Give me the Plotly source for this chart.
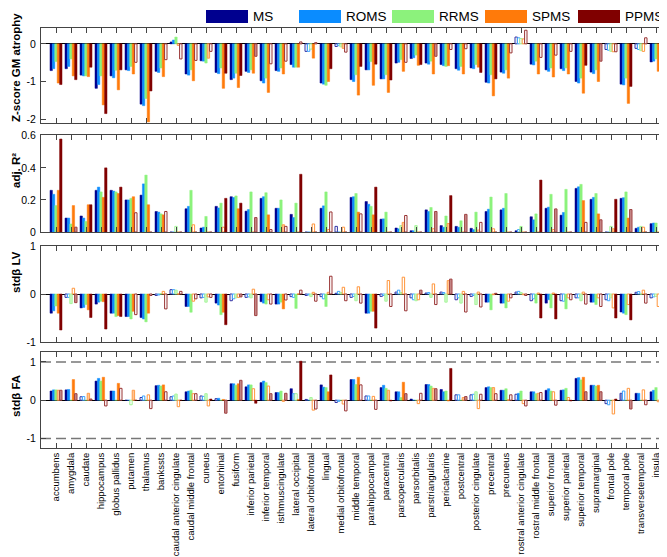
import plotly.graph_objects as go

categories = ["accumbens", "amygdala", "caudate", "hippocampus", "globus pallidus", "putamen",
              "thalamus", "bankssts", "caudal anterior cingulate", "caudal middle frontal", "cuneus",
              "entorhinal", "fusiform", "inferior parietal", "inferior temporal", "isthmuscingulate",
              "lateral occipital", "lateral orbitofrontal", "lingual", "medial orbitofrontal",
              "middle temporal", "parahippocampal", "paracentral", "parsopercularis", "parsorbitalis",
              "parstriangularis", "pericalcarine", "postcentral", "posterior cingulate", "precentral",
              "precuneus", "rostral anterior cingulate", "rostral middle frontal", "superior frontal",
              "superior parietal", "superior temporal", "supramarginal", "frontal pole", "temporal pole",
              "transversetemporal", "insula"]
series = ["MS", "ROMS", "RRMS", "SPMS", "PPMS"]

# Panel 1: Z-score GM atrophy
gm_ms = [-0.71, -0.66, -0.83, -1.18, -0.85, -0.69, -1.60, -0.73, 0.05, -0.80, -0.45, -0.76, -0.95, -0.73, -0.98, -0.71, -0.55, -0.20, -1.04, -0.07, -0.95, -0.69, -0.93, -0.51, -0.39, -0.51, -0.55, -0.66, -0.64, -1.02, -0.75, 0.18, -0.54, -0.69, -0.66, -1.00, -0.75, -0.15, -1.07, -0.12, -0.48]
gm_roms = [-0.66, -0.60, -0.85, -1.08, -0.90, -0.71, -1.64, -0.76, 0.10, -0.83, -0.46, -0.79, -0.91, -0.76, -1.04, -0.73, -0.62, -0.20, -1.07, -0.05, -1.00, -0.69, -0.93, -0.49, -0.37, -0.54, -0.58, -0.70, -0.66, -1.04, -0.78, 0.16, -0.56, -0.73, -0.71, -1.04, -0.79, -0.17, -1.09, -0.15, -0.46]
gm_rrms = [-0.47, -0.40, -0.85, -0.85, -0.70, -0.60, -1.45, -0.64, 0.18, -0.69, -0.51, -0.64, -0.78, -0.69, -0.91, -0.64, -0.62, -0.14, -1.10, -0.08, -0.82, -0.47, -0.82, -0.42, -0.30, -0.46, -0.60, -0.60, -0.55, -0.82, -0.69, 0.14, -0.46, -0.64, -0.64, -0.91, -0.69, -0.20, -0.91, -0.18, -0.40]
gm_spms = [-1.04, -0.85, -0.87, -1.62, -1.22, -0.80, -2.07, -0.87, -0.04, -0.98, -0.38, -1.18, -1.16, -0.78, -1.29, -0.80, -0.62, -0.38, -1.00, -0.12, -1.36, -1.10, -1.29, -0.73, -0.57, -0.80, -0.58, -0.80, -0.62, -1.38, -0.91, 0.13, -0.80, -0.88, -0.80, -1.31, -1.00, -0.21, -1.58, -0.20, -0.73]
gm_ppms = [-1.08, -0.95, -0.62, -1.85, -0.69, -0.49, -1.25, -0.42, -0.40, -0.44, -0.20, -0.78, -0.84, -0.33, -0.53, -0.46, 0.05, 0.03, -0.66, -0.22, -0.60, -0.54, -0.96, -0.49, -0.55, -0.33, -0.15, -0.13, -0.76, -0.93, -0.24, 0.36, -0.36, -0.30, -0.20, -0.57, -0.46, -0.21, -1.13, 0.16, -0.69]

# Panel 2: adj. R2
r2_ms = [0.26, 0.087, 0.10, 0.26, 0.26, 0.20, 0.23, 0.128, 0.0, 0.145, 0.025, 0.16, 0.22, 0.13, 0.21, 0.148, 0.11, 0.0, 0.148, 0.035, 0.216, 0.19, 0.08, 0.025, 0.008, 0.138, 0.04, 0.035, 0.023, 0.128, 0.138, 0.008, 0.095, 0.148, 0.105, 0.272, 0.204, 0.0, 0.21, 0.023, 0.052]
r2_roms = [0.235, 0.087, 0.087, 0.28, 0.255, 0.20, 0.30, 0.124, 0.0, 0.16, 0.03, 0.15, 0.215, 0.14, 0.22, 0.148, 0.09, 0.0, 0.163, 0.0, 0.22, 0.173, 0.082, 0.02, 0.008, 0.128, 0.03, 0.03, 0.015, 0.142, 0.148, 0.015, 0.076, 0.155, 0.122, 0.282, 0.216, 0.0, 0.214, 0.03, 0.056]
r2_rrms = [0.165, 0.05, 0.066, 0.25, 0.25, 0.21, 0.355, 0.113, 0.035, 0.26, 0.097, 0.18, 0.225, 0.25, 0.245, 0.20, 0.18, 0.0, 0.25, 0.0, 0.24, 0.16, 0.124, 0.04, 0.04, 0.153, 0.10, 0.07, 0.124, 0.218, 0.24, 0.035, 0.113, 0.235, 0.266, 0.297, 0.24, 0.035, 0.25, 0.035, 0.056]
r2_spms = [0.26, 0.165, 0.17, 0.216, 0.24, 0.22, 0.17, 0.107, 0.0, 0.045, 0.0, 0.03, 0.145, 0.0, 0.107, 0.045, 0.0, 0.05, 0.015, 0.03, 0.124, 0.107, 0.0, 0.06, 0.0, 0.02, 0.053, 0.0, 0.012, 0.02, 0.0, 0.0, 0.0, 0.015, 0.0, 0.196, 0.113, 0.02, 0.087, 0.03, 0.0]
r2_ppms = [0.58, 0.03, 0.17, 0.40, 0.28, 0.12, 0.0, 0.128, 0.0, 0.0, 0.0, 0.21, 0.18, 0.09, 0.015, 0.035, 0.36, 0.0, 0.125, 0.0, 0.113, 0.28, 0.0, 0.103, 0.0, 0.128, 0.227, 0.11, 0.06, 0.0, 0.0, 0.0, 0.324, 0.144, 0.0, 0.06, 0.076, 0.204, 0.14, 0.0, 0.02]

# Panel 3: std beta LV
lv_ms = [-0.40, -0.07, -0.29, -0.21, -0.40, -0.47, -0.49, -0.03, 0.09, -0.26, -0.08, -0.19, -0.14, -0.07, -0.16, -0.21, -0.055, -0.03, -0.055, 0.015, -0.07, -0.40, -0.05, 0.04, -0.08, 0.02, 0.04, -0.12, -0.05, -0.17, -0.19, 0.04, -0.14, -0.19, -0.14, -0.08, -0.17, -0.12, -0.375, 0.035, -0.08]
lv_roms = [-0.35, -0.07, -0.28, -0.17, -0.40, -0.47, -0.52, -0.02, 0.09, -0.26, -0.07, -0.23, -0.10, -0.06, -0.19, -0.21, -0.07, -0.02, -0.10, 0.055, -0.05, -0.40, -0.03, 0.08, -0.12, 0.03, 0.03, -0.08, -0.03, -0.17, -0.19, 0.055, -0.10, -0.12, -0.15, -0.08, -0.17, -0.14, -0.40, 0.05, -0.06]
lv_rrms = [-0.25, -0.20, -0.22, -0.15, -0.47, -0.52, -0.58, 0.01, 0.08, -0.38, -0.17, -0.43, -0.08, -0.08, -0.21, -0.17, -0.30, -0.055, -0.26, 0.03, -0.14, -0.36, -0.15, 0.03, -0.14, -0.07, -0.17, -0.19, -0.22, -0.33, -0.29, 0.03, -0.19, -0.29, -0.31, -0.14, -0.22, -0.08, -0.43, 0.0, -0.05]
lv_spms = [-0.40, 0.12, -0.33, -0.16, -0.45, -0.36, -0.40, 0.055, 0.0, -0.15, -0.06, -0.38, -0.07, 0.10, -0.12, -0.31, 0.0, 0.035, 0.035, 0.14, 0.15, -0.36, 0.28, 0.35, -0.12, 0.21, 0.28, 0.055, 0.04, -0.014, -0.15, -0.014, 0.02, 0.02, -0.08, 0.04, -0.08, -0.29, -0.22, 0.08, -0.26]
lv_ppms = [-0.75, -0.18, -0.49, -0.73, -0.47, -0.43, -0.03, -0.31, 0.055, -0.10, -0.07, -0.64, -0.06, -0.45, -0.21, -0.125, 0.08, -0.15, 0.37, -0.14, -0.19, -0.71, -0.26, -0.35, 0.08, -0.22, 0.31, -0.375, -0.27, 0.014, -0.08, -0.03, -0.50, -0.52, -0.12, -0.21, -0.26, -0.50, -0.54, -0.19, -0.31]

# Panel 4: std beta FA
fa_ms = [0.24, 0.27, 0.09, 0.50, 0.24, 0.0, 0.07, 0.38, 0.09, 0.22, 0.11, 0.04, 0.43, 0.35, 0.46, 0.20, 0.30, 0.02, 0.40, -0.06, 0.54, 0.11, 0.33, 0.22, 0.03, 0.41, 0.28, 0.14, 0.14, 0.33, 0.26, 0.155, 0.22, 0.26, 0.26, 0.57, 0.39, -0.09, 0.18, 0.18, 0.22]
fa_roms = [0.27, 0.28, 0.095, 0.57, 0.24, 0.0, 0.11, 0.39, 0.11, 0.24, 0.10, 0.05, 0.43, 0.40, 0.50, 0.20, 0.17, 0.0, 0.34, -0.03, 0.54, 0.11, 0.39, 0.22, 0.0, 0.41, 0.22, 0.14, 0.155, 0.35, 0.26, 0.18, 0.22, 0.30, 0.27, 0.59, 0.39, -0.12, 0.24, 0.18, 0.26]
fa_rrms = [0.27, 0.0, 0.0, 0.50, 0.0, -0.12, 0.0, 0.37, 0.16, 0.26, 0.17, 0.0, 0.39, 0.40, 0.46, 0.24, 0.17, 0.07, 0.33, 0.0, 0.41, 0.0, 0.31, 0.07, 0.0, 0.37, 0.24, 0.0, 0.22, 0.33, 0.30, 0.24, 0.17, 0.24, 0.31, 0.53, 0.37, 0.0, 0.0, 0.0, 0.33]
fa_spms = [0.26, 0.54, 0.18, 0.60, 0.44, 0.26, 0.14, 0.40, -0.17, 0.17, -0.15, 0.02, 0.43, 0.30, 0.37, -0.03, 0.02, -0.26, 0.22, -0.10, 0.60, 0.10, 0.26, 0.47, -0.09, 0.31, -0.02, 0.07, -0.22, 0.33, 0.01, -0.09, 0.18, 0.22, 0.07, 0.60, 0.39, -0.36, 0.31, 0.27, -0.04]
fa_ppms = [0.26, 0.17, 0.03, -0.15, 0.31, 0.0, -0.22, 0.22, 0.0, 0.17, 0.03, -0.34, 0.52, -0.08, 0.17, 0.18, 1.02, -0.23, 0.66, -0.28, 0.40, -0.24, -0.02, 0.17, 0.18, 0.30, 0.83, 0.095, 0.155, 0.17, 0.14, -0.15, 0.20, -0.13, -0.02, 0.22, 0.22, 0.03, -0.23, -0.12, 0.03]

# significance styles: f = filled, l = light fill, h = hollow
gm_sty = ["fffff fffff fffff ffhfh fffff fffff fhfff ffhfh f",
          "fffff fffff fffff ffhfh fffff fffff fhfff ffhfh f",
          "fffff fffff fffff ffhfl fffff fffff fhfff fflfl f",
          "fffff fffhf lffff ffffl fffff fffff fhfff ffhfh f",
          "fffff hfhhh hfflh hhhfh fffhf lhhff hhhhh flhfh f"]
r2_sty = ["fffff fffff fffff ffffh fffff fffff fffff fffff f",
          "fffff fffff fffff fffff fffff fffff fhfff fffff f",
          "fffff fffhf fffff fffff fffll fffff fffff ffhfl f",
          "fffff ffffh fhfff lfhhh ffflf hlfhh fffhf fflfh f",
          "flfff hfhff ffflh hffhf hffhf lflhf ffflf hlflf h"]
lv_sty = ["fhfff ffhhf hfhhf fhhhh hfhhh hhhhf fhhfh hfhfh h",
          "fhfff ffhhf hfhhf fhhhh hfhhh hhhhf fhhfh hfhfh h",
          "flfff ffhlf lfllf fflfl lflll llllf flfff lflfh h",
          "fhfff ffhhh hfhhh fhhhh hfhhh hlhhh hhhhh hhhhh h",
          "flfff hhhhh hfllh hhhhh hfhhl hlhhh hhffh hhffh h"]
fa_sty = ["ffhff fhfhf hhfff ffhfh fhfff ffhhf fhfff ffhlf f",
          "ffhff fhfhf hffff flffh fhfff ffhhf fffff ffhhf f",
          "fffff hfflf lffff fhlff fffff ffflf fffff fffff f",
          "lflff lhfhh hffhh hfhfh fhlfh lflhl hhlhh ffhhh h",
          "lllhh fhhfh fllfl lfhfh hhflh lflhh hhhhf llflh f"]

colors = ["#00008F", "#0A8CFF", "#8CF27C", "#FF7A0A", "#800000"]

panels = [
    ([gm_ms, gm_roms, gm_rrms, gm_spms, gm_ppms], gm_sty),
    ([r2_ms, r2_roms, r2_rrms, r2_spms, r2_ppms], r2_sty),
    ([lv_ms, lv_roms, lv_rrms, lv_spms, lv_ppms], lv_sty),
    ([fa_ms, fa_roms, fa_rrms, fa_spms, fa_ppms], fa_sty),
]


def blend(hexc, t):
    r, g, b = int(hexc[1:3], 16), int(hexc[3:5], 16), int(hexc[5:7], 16)
    r = round(r + (255 - r) * t)
    g = round(g + (255 - g) * t)
    b = round(b + (255 - b) * t)
    return f"rgb({r},{g},{b})"


W, H = 667, 557
ML, MR, MT, MB = 33, 4, 20, 117
PW, PH = W - ML - MR, H - MT - MB


def py(y):  # pixel y -> paper y
    return (H - MB - y) / PH


def px(x):
    return (x - ML) / PW


xs = list(range(1, len(categories) + 1))
fig = go.Figure()
for p, (vals, sty) in enumerate(panels):
    ax = "" if p == 0 else str(p + 1)
    for s in range(5):
        code = sty[s].replace(" ", "")
        c = colors[s]
        fill, lc, lw = [], [], []
        for ch in code:
            if ch == "f":
                fill.append(c); lc.append(c); lw.append(0.5)
            elif ch == "l":
                fill.append(blend(c, 0.55)); lc.append(blend(c, 0.25)); lw.append(1)
            else:
                fill.append("white"); lc.append(blend(c, 0.2)); lw.append(1)
        fig.add_trace(go.Bar(x=xs, y=vals[s], name=series[s], xaxis="x" + ax, yaxis="y" + ax,
                             marker=dict(color=fill, line=dict(color=lc, width=lw)),
                             showlegend=False, offsetgroup=str(s)))

domains = [(py(115), py(20)), (py(224), py(127)), (py(334), py(238)), (py(440), py(344))]
yranges = [[-2.1, 0.42], [0, 0.605], [-1, 1], [-1.25, 1.26]]
ytvals = [[-2, -1, 0], [0, 0.2, 0.4, 0.6], [-1, 0, 1], [-1, 0, 1]]
yttext = [["-2", "-1", "0"], ["0", "0.2", "0.4", "0.6"], ["-1", "0", "1"], ["-1", "0", "1"]]
titles = ["Z-score GM atrophy", "adj. R²", "stdβ LV", "stdβ FA"]
title_y = [60, 163, 264, 388]

axcol = "#444444"
font_fam = "Liberation Sans, Arial, sans-serif"
layout = dict(width=W, height=H, margin=dict(l=ML, r=MR, t=MT, b=MB),
              paper_bgcolor="white", plot_bgcolor="white",
              barmode="group", bargap=0.2, bargroupgap=0,
              font=dict(family=font_fam, color="black"))
for p in range(4):
    ax = "" if p == 0 else str(p + 1)
    layout["xaxis" + ax] = dict(domain=[0, 1], anchor="y" + ax, range=[0, 42],
                                tickvals=xs, ticktext=categories,
                                showticklabels=(p == 3), tickangle=-90,
                                tickfont=dict(size=9.5, family=font_fam),
                                ticks="inside", ticklen=5, tickcolor=axcol,
                                showline=True, linecolor=axcol, linewidth=1, mirror="ticks",
                                showgrid=False, zeroline=False)
    layout["yaxis" + ax] = dict(domain=list(domains[p]), anchor="x" + ax, range=yranges[p],
                                tickvals=ytvals[p], ticktext=yttext[p],
                                tickfont=dict(size=10.5, family=font_fam),
                                ticks="inside", ticklen=5, tickcolor=axcol,
                                showline=True, linecolor=axcol, linewidth=1, mirror="ticks",
                                showgrid=False, zeroline=True, zerolinecolor="black",
                                zerolinewidth=1, ticklabelstandoff=2)

shapes = []
annotations = []
# dashed reference lines at +/-1 in FA panel
for yv in (1, -1):
    shapes.append(dict(type="line", xref="x4", yref="y4", x0=0, x1=42, y0=yv, y1=yv,
                       line=dict(color="#777777", width=1.5, dash="10px,5px"), layer="below"))

# y-axis titles
for p in range(4):
    annotations.append(dict(text="<b>" + titles[p] + "</b>", x=px(8), y=py(title_y[p]),
                            xref="paper", yref="paper", textangle=-90, showarrow=False,
                            font=dict(size=11.5, family=font_fam, color="black"),
                            xanchor="center", yanchor="middle"))

# legend
for i, name in enumerate(series):
    x0 = 198 + 93 * i
    shapes.append(dict(type="rect", xref="paper", yref="paper", x0=px(x0), x1=px(x0 + 42),
                       y0=py(15), y1=py(2), fillcolor=colors[i], line=dict(width=0)))
    annotations.append(dict(text=name, x=px(x0 + 45), y=py(8.5), xref="paper", yref="paper",
                            showarrow=False, xanchor="left", yanchor="middle",
                            font=dict(size=13.5, family=font_fam, color="black")))

layout["shapes"] = shapes
layout["annotations"] = annotations
fig.update_layout(**layout)
fig.write_html("out.html")
